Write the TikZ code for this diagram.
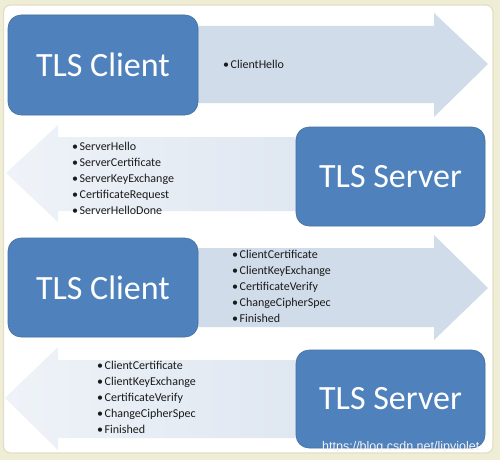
\documentclass[tikz,border=0pt]{standalone}
\usepackage{fontspec}
\setmainfont{Carlito}
\newfontfamily\wmfont{Liberation Sans}
\definecolor{bgbeige}{HTML}{EFEDD6}
\definecolor{paneledge}{HTML}{E2DFC3}
\definecolor{boxblue}{HTML}{4F81BD}
\definecolor{boxedge}{HTML}{41709F}
\definecolor{rarrow}{HTML}{D1DCEA}
\definecolor{larrowA}{HTML}{EFF3F8}
\definecolor{larrowB}{HTML}{DFE7F1}
\definecolor{msgtext}{HTML}{1A1A1A}
\newcommand{\bul}{\textbullet\kern1.5pt}
\tikzset{
  party/.style={draw=boxedge, line width=0.6pt, fill=boxblue, rounded corners=13pt,
    text=white, font=\fontsize{34}{40}\selectfont, inner sep=0pt},
  rightarrow/.style={fill=rarrow, draw=none},
  leftarrow/.style={left color=larrowA, right color=larrowB, draw=none},
  msglist/.style={anchor=base west, align=left, text=msgtext, inner sep=0pt,
    font=\fontsize{12}{15.8}\selectfont},
  watermark/.style={anchor=base west, inner sep=0pt, text=white!90!gray,
    font=\wmfont\fontsize{12.5}{14}\selectfont}
}
\begin{document}
\begin{tikzpicture}[x=1pt,y=-1pt]
\useasboundingbox (0,0) rectangle (500,460);
\fill[bgbeige] (0,0) rectangle (500,460);
\draw[paneledge, line width=1.2pt, fill=white, rounded corners=7pt] (3.5,5) rectangle (493,453);

% arrows
\path[rightarrow] (190,26) -- (434,26) -- (434,13) -- (488,64) -- (434,117) -- (434,103) -- (190,103) -- cycle;
\path[leftarrow] (300,137) -- (58,137) -- (58,125) -- (6,173) -- (58,222) -- (58,211) -- (300,211) -- cycle;
\path[rightarrow] (190,248) -- (434,248) -- (434,235) -- (488,288) -- (434,340) -- (434,327) -- (190,327) -- cycle;
\path[leftarrow] (300,360) -- (58,360) -- (58,347) -- (5,398) -- (58,450) -- (58,438) -- (300,438) -- cycle;

% parties
\node[party, minimum width=190pt, minimum height=100pt] (c1) at (103,65) {TLS Client};
\node[party, minimum width=189pt, minimum height=99pt] (s1) at (390.5,176.5) {TLS Server};
\node[party, minimum width=190pt, minimum height=99pt] (c2) at (103,287.5) {TLS Client};
\node[party, minimum width=189pt, minimum height=98pt] (s2) at (390.5,399) {TLS Server};

% messages (anchored at the baseline of their last line)
\node[msglist] (m1) at (223,68) {\bul ClientHello};
\node[msglist] (m2) at (72,214) {\bul ServerHello\\ \bul ServerCertificate\\ \bul ServerKeyExchange\\ \bul CertificateRequest\\ \bul ServerHelloDone};
\node[msglist] (m3) at (232,322) {\bul ClientCertificate\\ \bul ClientKeyExchange\\ \bul CertificateVerify\\ \bul ChangeCipherSpec\\ \bul Finished};
\node[msglist] (m4) at (97,433) {\bul ClientCertificate\\ \bul ClientKeyExchange\\ \bul CertificateVerify\\ \bul ChangeCipherSpec\\ \bul Finished};

\node[watermark] (wm) at (322,450) {https://blog.csdn.net/lipviolet};
\end{tikzpicture}
\end{document}
